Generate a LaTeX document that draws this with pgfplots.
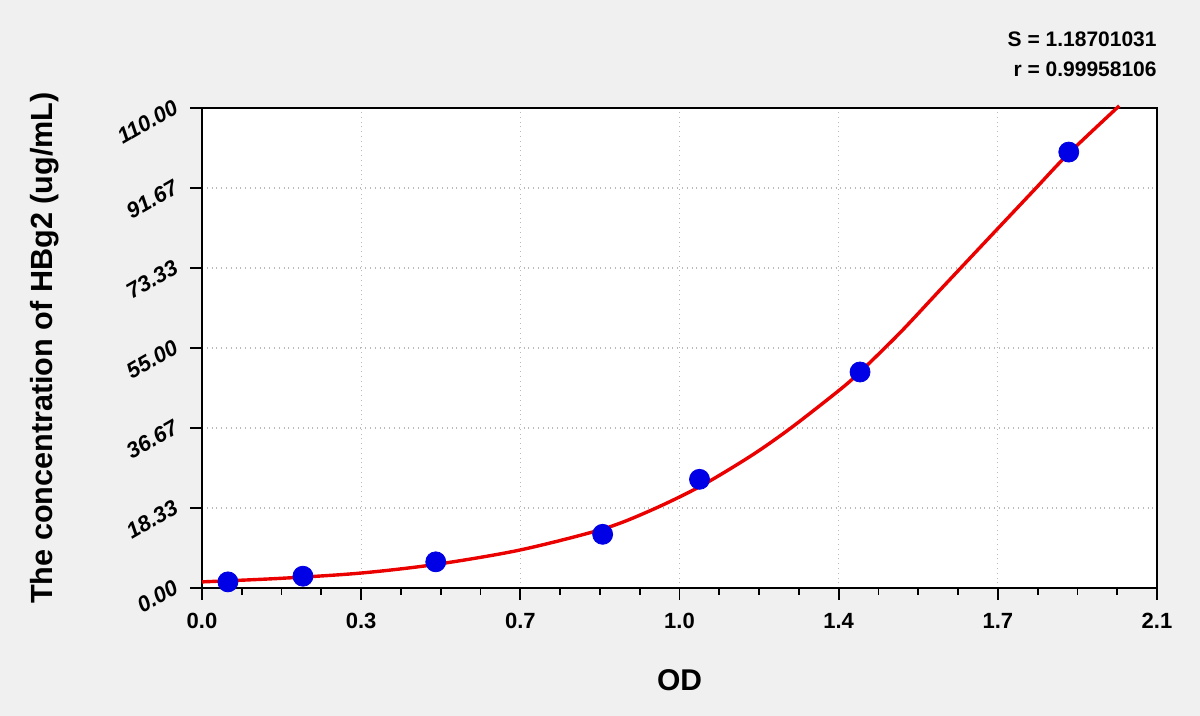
\documentclass[border=0pt]{standalone}
\usepackage{fontspec}
\setmainfont{Liberation Sans}
\usepackage{pgfplots}
\pgfplotsset{compat=1.18}
\definecolor{bggray}{RGB}{240,240,240}
\definecolor{gridgray}{RGB}{185,185,185}
\definecolor{dotblue}{RGB}{0,0,230}
\definecolor{fitred}{RGB}{235,0,0}

% standards (OD, concentration)
\pgfplotstableread{
x y
0.057 1.4
0.222 2.7
0.514 6.0
0.881 12.3
1.094 24.9
1.447 49.5
1.906 99.9
}\standards

% fitted curve
\pgfplotstableread{
x y
0.000 1.4
0.171 2.2
0.347 3.4
0.514 5.4
0.699 8.7
0.881 13.5
0.985 17.7
1.094 23.2
1.206 30.2
1.294 36.6
1.401 45.3
1.447 49.5
1.535 58.5
1.623 68.3
1.733 80.5
1.828 91.0
1.905 99.5
2.017 110.5
}\fitcurve

\begin{document}
\begin{tikzpicture}
\fill[bggray] (0,0) rectangle (600pt,358pt);
\begin{axis}[
  at={(101pt,64pt)}, anchor=south west,
  scale only axis, width=477.5pt, height=240pt,
  xmin=0, xmax=2.1, ymin=0, ymax=110,
  axis background/.style={fill=white},
  axis line style={black, line width=1pt},
  clip=false,
  tick align=outside,
  xtick pos=left, ytick pos=left,
  major tick length=6pt, minor tick length=3.5pt,
  every tick/.style={black, line width=0.9pt},
  xtick={0,0.35,0.7,1.05,1.4,1.75,2.1},
  xticklabels={0.0,0.3,0.7,1.0,1.4,1.7,2.1},
  ytick={0,18.3333,36.6667,55,73.3333,91.6667,110},
  yticklabels={0.00,18.33,36.67,55.00,73.33,91.67,110.00},
  minor x tick num=3, minor y tick num=3,
  grid=major,
  major grid style={gridgray, dotted, line width=0.6pt},
  xticklabel style={font=\fontsize{11}{13}\selectfont\bfseries, yshift=-3pt},
  yticklabel style={font=\fontsize{11}{13}\selectfont\bfseries\itshape, xshift=-4pt, yshift=3pt, rotate=30, anchor=east},
  xlabel={OD},
  xlabel style={font=\fontsize{15}{17}\selectfont\bfseries, at={([yshift=-46pt]axis description cs:0.5,0)}, anchor=center},
  ylabel={The concentration of HBg2 (ug/mL)},
  ylabel style={font=\fontsize{15.3}{17}\selectfont\bfseries, at={([xshift=-78.5pt]axis description cs:0,0.5)}, anchor=center},
]
\addplot[only marks, mark=*, mark size=5pt, dotblue, mark options={draw=dotblue, fill=dotblue}] table {\standards};
\addplot[fitred, line width=1.7pt, smooth, no marks] table {\fitcurve};
\node[anchor=south east, align=right, inner sep=0pt, font=\fontsize{10.5}{15}\selectfont\bfseries] at ([yshift=15.5pt]rel axis cs:1,1) {S = 1.18701031\\r = 0.99958106};
\end{axis}
\pgfresetboundingbox
\path (0,0) rectangle (600pt,358pt);
\end{tikzpicture}
\end{document}
